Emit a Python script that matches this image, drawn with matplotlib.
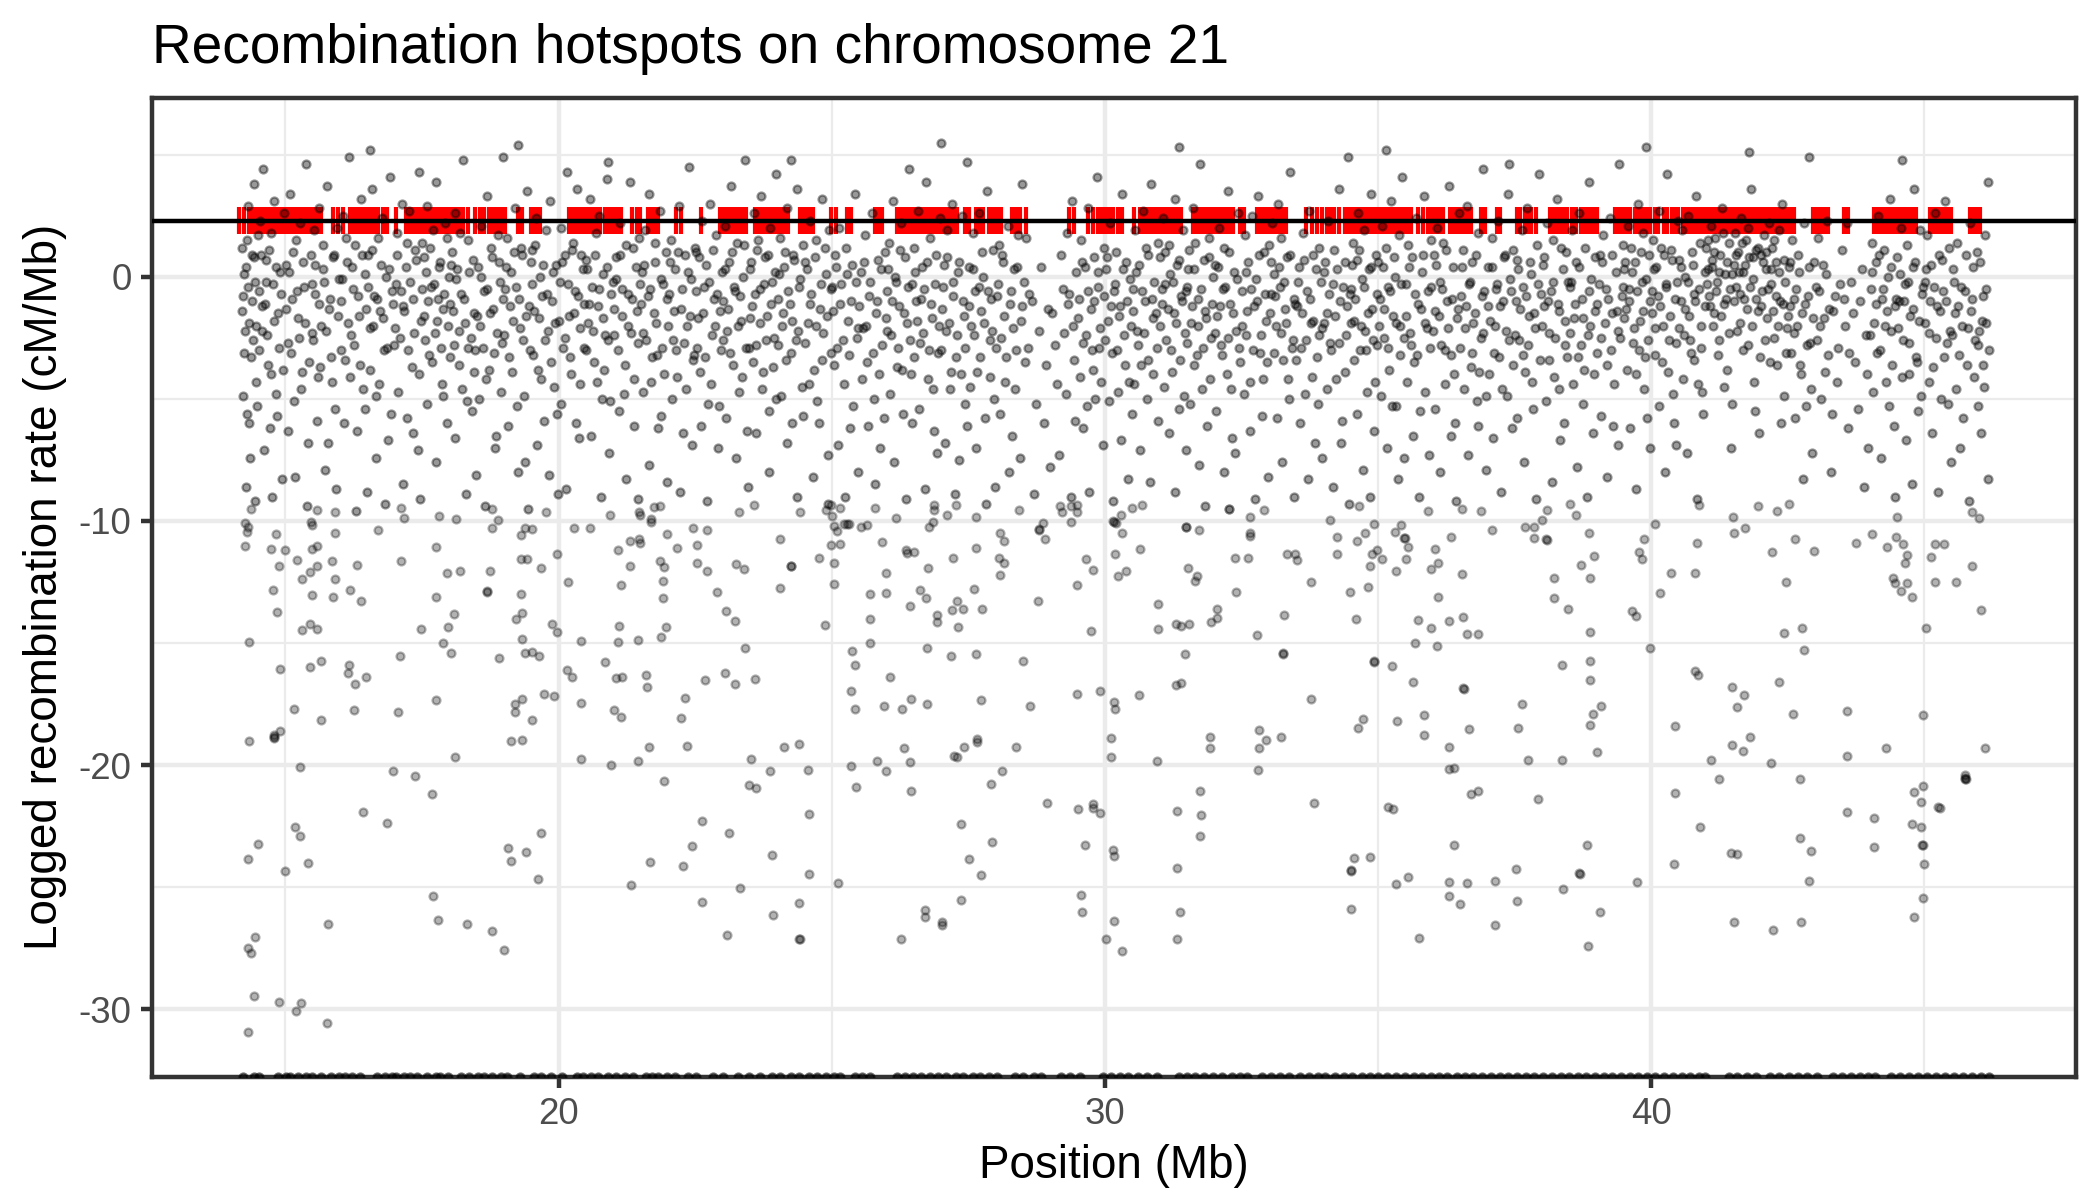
import matplotlib
matplotlib.use("Agg")
import matplotlib.pyplot as plt
import matplotlib.transforms as mtransforms
import numpy as np

plt.rcParams['font.family'] = ['Liberation Sans', 'DejaVu Sans']

title = "Recombination hotspots on chromosome 21"
x_label = "Position (Mb)"
y_label = "Logged recombination rate (cM/Mb)"
hotspot_threshold = np.log(10)          # cM/Mb threshold, logged
x_major = [20, 30, 40]
x_minor = [15, 25, 35, 45]
y_major = [-30, -20, -10, 0]
y_minor = [-25, -15, -5, 5]

# Hotspot positions (Mb)
hotspot_x = [14.16,14.25,14.34,14.41,14.47,14.53,14.59,14.64,14.70,14.76,14.82,14.88,14.94,14.97,15.01,15.07,15.13,15.19,15.25,15.31,
 15.37,15.43,15.49,15.55,15.61,15.66,15.88,15.97,16.06,16.19,16.25,16.31,16.37,16.43,16.49,16.57,16.63,16.69,16.78,16.86,
 17.02,17.20,17.26,17.32,17.38,17.44,17.48,17.52,17.58,17.64,17.70,17.76,17.82,17.88,17.94,18.00,18.06,18.12,18.18,18.26,
 18.34,18.48,18.56,18.64,18.73,18.79,18.85,18.91,18.97,19.02,19.26,19.34,19.50,19.56,19.62,19.67,20.19,20.25,20.31,20.37,
 20.42,20.47,20.53,20.59,20.65,20.71,20.76,20.85,20.92,20.98,21.04,21.10,21.14,21.35,21.43,21.50,21.64,21.71,21.77,21.83,
 22.16,22.25,22.60,22.96,23.02,23.09,23.12,23.17,23.24,23.31,23.38,23.44,23.59,23.65,23.71,23.77,23.83,23.87,23.92,23.98,
 24.04,24.10,24.16,24.20,24.42,24.48,24.54,24.60,24.66,24.98,25.08,25.29,25.36,25.79,25.87,25.92,26.19,26.25,26.31,26.37,
 26.43,26.50,26.54,26.60,26.66,26.72,26.78,26.84,26.88,26.92,27.00,27.08,27.14,27.20,27.26,27.30,27.44,27.51,27.64,27.70,
 27.78,27.88,27.93,27.99,28.05,28.10,28.31,28.38,28.45,28.56,29.34,29.43,29.69,29.79,29.87,29.93,29.99,30.05,30.11,30.15,
 30.25,30.31,30.54,30.65,30.71,30.77,30.83,30.89,30.94,30.98,31.05,31.11,31.16,31.22,31.28,31.34,31.39,31.61,31.69,31.71,
 31.77,31.83,31.89,31.95,32.01,32.07,32.12,32.17,32.23,32.28,32.34,32.48,32.55,32.79,32.85,32.91,32.97,33.03,33.09,33.15,
 33.21,33.27,33.31,33.68,33.79,33.89,33.98,34.07,34.15,34.20,34.28,34.40,34.46,34.52,34.58,34.64,34.70,34.76,34.79,34.81,
 34.87,34.93,34.99,35.05,35.11,35.15,35.19,35.25,35.31,35.37,35.43,35.50,35.55,35.61,35.73,35.82,35.92,35.98,36.04,36.10,
 36.16,36.20,36.32,36.40,36.46,36.52,36.58,36.64,36.70,36.89,36.96,37.18,37.24,37.54,37.60,37.69,37.75,37.81,37.89,38.15,
 38.21,38.27,38.33,38.37,38.40,38.47,38.55,38.63,38.71,38.77,38.83,38.89,38.95,39.01,39.34,39.40,39.46,39.52,39.58,39.62,
 39.70,39.76,39.82,39.88,39.94,39.99,40.07,40.13,40.23,40.30,40.38,40.45,40.49,40.59,40.63,40.69,40.75,40.81,40.87,40.92,
 40.98,41.04,41.10,41.16,41.22,41.28,41.34,41.40,41.46,41.52,41.58,41.64,41.70,41.73,41.79,41.85,41.91,41.97,42.03,42.07,
 42.13,42.19,42.25,42.31,42.35,42.39,42.45,42.51,42.57,42.62,42.97,43.03,43.09,43.15,43.21,43.24,43.53,43.61,44.08,44.14,
 44.20,44.26,44.32,44.38,44.45,44.49,44.55,44.61,44.66,44.68,44.74,44.80,44.86,45.11,45.17,45.23,45.29,45.35,45.41,45.47,
 45.50,45.84,45.90,45.96,46.02]

# Dense cloud (position Mb, logged rate), 14-25 Mb
dense_a = [(14.21,1.2),(14.23,-0.8),(14.25,-3.1),(14.27,0.4),(14.29,-5.6),(14.31,2.9),(14.33,-1.9),(14.36,-7.4),(14.38,0.9),(14.40,-2.6),(14.43,3.8),(14.45,-0.2),(14.47,-4.3),(14.49,1.7),
 (14.51,-0.6),(14.54,2.3),(14.57,-2.2),(14.59,4.4),(14.62,-1.1),(14.65,0.7),(14.68,-3.6),(14.71,-6.2),(14.74,1.8),(14.77,-0.3),(14.80,3.1),(14.83,-4.8),(14.86,-1.5),(14.90,0.2),(14.94,-8.3),(14.97,2.6),
 (15.02,0.5),(15.05,-2.7),(15.09,3.4),(15.12,-0.9),(15.16,-5.1),(15.19,1.5),(15.23,-1.7),(15.27,2.2),(15.30,-3.9),(15.34,-0.4),(15.38,4.6),(15.42,-6.8),(15.46,0.9),(15.49,-2.3),
 (15.52,1.9),(15.55,-0.7),(15.59,-4.1),(15.62,2.8),(15.66,-2.0),(15.69,0.3),(15.73,-7.9),(15.76,3.7),(15.80,-1.3),(15.84,-3.3),(15.87,0.8),(15.91,-5.4),(15.95,2.0),(15.98,-0.1),
 (16.02,-1.0),(16.06,2.5),(16.09,-3.4),(16.13,0.6),(16.17,4.9),(16.20,-2.4),(16.24,-0.5),(16.28,1.3),(16.32,-6.3),(16.35,-1.6),(16.39,3.2),(16.43,-4.6),(16.46,0.1),(16.49,-8.8),
 (16.52,0.9),(16.55,-2.1),(16.59,3.6),(16.63,-0.8),(16.66,-4.9),(16.70,1.6),(16.73,-1.4),(16.77,2.4),(16.81,-3.0),(16.84,0.0),(16.88,-6.7),(16.92,4.1),(16.95,-0.6),(16.98,-2.8),
 (17.02,-0.3),(17.05,1.8),(17.09,-2.5),(17.13,3.0),(17.16,-1.2),(17.20,0.4),(17.23,-5.8),(17.27,2.7),(17.31,-3.7),(17.34,-0.9),(17.38,1.1),(17.42,-7.1),(17.45,4.3),(17.48,-1.8),
 (17.51,1.4),(17.54,-1.6),(17.57,0.2),(17.60,2.9),(17.63,-3.2),(17.66,-0.4),(17.70,1.9),(17.73,-2.3),(17.76,3.9),(17.80,-0.9),(17.83,0.6),(17.86,-4.4),(17.89,-1.3),(17.93,2.2),(17.96,-6.0),(17.99,0.0),
 (18.02,-1.1),(18.05,1.0),(18.08,-2.8),(18.11,2.6),(18.15,0.3),(18.18,-3.6),(18.21,-0.7),(18.25,4.8),(18.28,-1.9),(18.32,-5.1),(18.35,1.5),(18.39,-2.5),(18.43,0.7),(18.46,-3.9),(18.49,-8.1),
 (18.52,0.4),(18.56,-2.0),(18.59,2.1),(18.63,-0.6),(18.67,-4.2),(18.70,3.3),(18.74,-1.5),(18.78,0.8),(18.81,-3.1),(18.85,-6.5),(18.89,1.7),(18.92,-0.2),(18.96,-2.7),(18.99,4.9),
 (19.02,-0.5),(19.06,1.6),(19.10,-3.3),(19.13,0.2),(19.17,-1.8),(19.21,2.8),(19.24,-5.3),(19.28,-0.9),(19.32,1.2),(19.35,-2.6),(19.39,-7.6),(19.43,3.5),(19.46,-1.2),(19.49,0.6),
 (19.52,1.1),(19.55,-1.4),(19.59,2.4),(19.63,-3.8),(19.66,0.0),(19.70,-0.8),(19.74,-5.9),(19.77,1.9),(19.81,-2.2),(19.85,3.1),(19.88,-1.0),(19.92,-4.5),(19.96,0.5),(19.99,-8.9),
 (20.02,-0.2),(20.05,2.0),(20.09,-2.9),(20.12,0.9),(20.16,4.3),(20.19,-1.6),(20.23,-4.0),(20.26,1.4),(20.30,-0.6),(20.33,3.6),(20.37,-6.6),(20.40,-2.1),(20.44,0.3),(20.47,-1.1),
 (20.51,0.7),(20.54,-1.9),(20.58,3.2),(20.61,-0.4),(20.65,-3.5),(20.68,1.8),(20.72,-1.2),(20.75,2.5),(20.79,-5.0),(20.82,0.1),(20.86,-2.4),(20.89,4.0),(20.93,-7.2),(20.97,-0.7),
 (21.01,-1.3),(21.05,0.8),(21.08,-3.0),(21.12,2.2),(21.16,-0.5),(21.19,-4.8),(21.23,1.3),(21.27,-2.0),(21.30,3.9),(21.34,-0.9),(21.38,-6.1),(21.41,0.4),(21.45,-2.7),(21.48,1.6),
 (21.52,0.2),(21.55,-2.3),(21.59,1.9),(21.63,-0.8),(21.66,3.4),(21.70,-4.3),(21.74,-1.5),(21.77,0.6),(21.81,-3.2),(21.85,2.7),(21.88,-5.7),(21.92,-0.3),(21.96,1.0),(21.99,-8.4),
 (22.02,-0.7),(22.06,1.5),(22.09,-2.6),(22.13,0.3),(22.17,-4.1),(22.20,2.9),(22.24,-1.3),(22.28,-6.4),(22.31,0.9),(22.35,-2.0),(22.39,4.5),(22.42,-0.1),(22.46,-3.4),(22.49,1.2),
 (22.52,1.0),(22.56,-1.7),(22.59,-3.9),(22.63,2.3),(22.67,-0.4),(22.70,0.5),(22.74,-5.2),(22.78,3.0),(22.81,-2.4),(22.85,-0.9),(22.89,1.7),(22.92,-7.0),(22.96,-1.4),(22.99,0.2),
 (23.02,-1.0),(23.05,2.1),(23.09,-2.2),(23.13,0.6),(23.16,3.7),(23.20,-3.6),(23.24,-0.6),(23.27,1.4),(23.31,-4.7),(23.34,-1.8),(23.38,0.0),(23.42,4.8),(23.45,-6.3),(23.48,-2.9),
 (23.51,0.3),(23.54,-1.2),(23.57,2.6),(23.61,-2.8),(23.64,1.1),(23.68,-0.5),(23.71,3.3),(23.74,-3.9),(23.78,0.8),(23.81,-1.6),(23.85,-5.5),(23.88,2.0),(23.91,-0.2),(23.95,-2.5),(23.98,4.2),
 (24.02,-0.9),(24.05,1.6),(24.09,-2.0),(24.12,0.4),(24.16,-3.4),(24.19,2.8),(24.23,-1.1),(24.27,-6.0),(24.30,0.9),(24.34,-2.6),(24.37,3.6),(24.41,-0.4),(24.45,-4.5),(24.48,1.3),
 (24.52,0.6),(24.56,-1.9),(24.60,2.3),(24.63,-0.7),(24.67,-3.8),(24.71,1.5),(24.74,-5.1),(24.78,-1.3),(24.82,3.2),(24.85,-2.3),(24.89,0.1),(24.93,-7.3),(24.96,1.9),(24.99,-0.5)]

dense_d = [(14.20,-1.4),(14.22,-4.9),(14.24,0.1),(14.26,-2.2),(14.28,-8.6),(14.30,1.5),(14.32,-0.4),(14.34,-6.0),(14.37,-3.3),(14.39,-1.0),(14.42,0.8),(14.44,-9.2),(14.46,-2.0),(14.48,-5.3),
 (14.52,-3.0),(14.55,0.9),(14.58,-1.2),(14.61,-7.1),(14.64,-0.2),(14.67,-2.4),(14.70,1.1),(14.73,-4.0),(14.76,-9.0),(14.79,-1.8),(14.82,0.4),(14.85,-5.7),(14.88,-2.9),(14.92,-0.7),(14.96,-3.8),
 (15.01,-1.3),(15.04,-6.3),(15.07,0.2),(15.11,-3.1),(15.14,1.0),(15.18,-8.2),(15.21,-0.6),(15.25,-2.5),(15.29,-4.6),(15.32,0.6),(15.36,-1.9),(15.40,-9.4),(15.44,-3.5),(15.48,-0.3),
 (15.51,-2.6),(15.54,0.5),(15.57,-5.9),(15.61,-1.1),(15.64,-3.7),(15.68,1.3),(15.71,-0.2),(15.75,-2.2),(15.78,-6.8),(15.82,-0.9),(15.86,-4.3),(15.89,0.9),(15.93,-8.7),(15.97,-1.6),
 (16.01,-3.0),(16.04,-0.1),(16.08,-6.0),(16.11,1.6),(16.15,-1.9),(16.19,-4.1),(16.22,0.4),(16.26,-2.8),(16.30,-9.6),(16.33,-0.8),(16.37,-3.6),(16.41,0.9),(16.45,-5.4),(16.48,-1.3),
 (16.51,-0.4),(16.54,-3.8),(16.58,1.1),(16.61,-2.0),(16.65,-7.4),(16.68,-0.9),(16.72,-4.4),(16.75,0.5),(16.79,-1.7),(16.83,-9.3),(16.86,-2.9),(16.90,0.3),(16.94,-5.6),(16.97,-1.1),
 (17.01,-2.1),(17.04,0.9),(17.07,-4.7),(17.11,-0.6),(17.15,-8.5),(17.18,-1.4),(17.22,1.4),(17.25,-3.0),(17.29,-0.2),(17.33,-6.4),(17.36,-2.3),(17.40,0.7),(17.44,-4.0),(17.47,-9.1),
 (17.50,-0.5),(17.53,0.8),(17.56,-2.6),(17.59,-5.2),(17.62,-1.0),(17.65,1.2),(17.68,-3.5),(17.72,-0.3),(17.75,-7.6),(17.78,-1.8),(17.81,0.4),(17.85,-2.9),(17.88,-4.9),(17.91,-0.7),(17.95,1.6),(17.98,-2.0),
 (18.01,-3.3),(18.04,0.5),(18.07,-1.4),(18.10,-6.6),(18.13,-0.1),(18.17,-2.2),(18.20,1.8),(18.23,-4.6),(18.27,-0.9),(18.30,-8.9),(18.34,-2.9),(18.37,0.2),(18.41,-5.5),(18.45,-1.5),(18.48,-3.0),
 (18.51,-1.6),(18.54,-5.0),(18.58,0.0),(18.61,-2.9),(18.65,-9.4),(18.69,-0.5),(18.72,-3.8),(18.76,1.2),(18.80,-1.3),(18.83,-7.0),(18.87,-2.3),(18.91,0.6),(18.94,-4.7),(18.98,-0.9),
 (19.01,-2.4),(19.04,0.4),(19.08,-6.1),(19.12,-1.2),(19.15,-3.9),(19.19,1.0),(19.23,-0.4),(19.26,-8.0),(19.30,-2.1),(19.33,0.9),(19.37,-4.9),(19.41,-1.6),(19.45,-9.5),(19.48,-3.0),
 (19.51,-0.3),(19.54,-3.2),(19.57,1.3),(19.61,-6.9),(19.64,-1.7),(19.68,-4.2),(19.72,0.5),(19.75,-2.6),(19.79,-0.7),(19.83,-8.1),(19.86,-3.5),(19.90,0.2),(19.94,-1.9),(19.97,-5.6),
 (20.01,-1.8),(20.04,-5.2),(20.07,0.6),(20.11,-2.5),(20.14,-8.7),(20.18,-0.3),(20.21,-3.3),(20.25,1.1),(20.28,-1.5),(20.32,-6.0),(20.35,-0.8),(20.39,-4.4),(20.42,0.9),(20.46,-2.9),
 (20.50,-3.0),(20.53,0.3),(20.56,-1.1),(20.60,-6.5),(20.63,-2.2),(20.67,0.9),(20.70,-4.3),(20.74,-0.5),(20.77,-9.0),(20.81,-1.7),(20.84,-3.8),(20.88,0.4),(20.91,-2.6),(20.95,-5.1),(20.99,-0.2),
 (21.02,-2.4),(21.06,-0.1),(21.10,-5.5),(21.13,0.9),(21.17,-1.6),(21.21,-3.6),(21.24,-8.3),(21.28,-0.7),(21.32,-2.3),(21.36,1.2),(21.39,-4.2),(21.43,-1.4),(21.46,-9.1),(21.49,-0.3),
 (21.51,-1.1),(21.54,-4.7),(21.57,0.5),(21.61,-2.6),(21.65,-7.7),(21.68,-0.5),(21.72,-3.3),(21.76,1.4),(21.79,-1.9),(21.83,-6.2),(21.87,-0.1),(21.90,-2.9),(21.94,-4.0),(21.98,-0.9),
 (22.01,-2.0),(22.04,0.6),(22.08,-5.0),(22.11,-1.4),(22.15,-3.0),(22.19,1.0),(22.22,-8.8),(22.26,-0.5),(22.30,-2.7),(22.33,-4.6),(22.37,0.2),(22.41,-1.6),(22.44,-6.9),(22.48,-3.2),
 (22.51,-0.6),(22.54,-2.9),(22.58,0.8),(22.61,-6.1),(22.65,-1.5),(22.68,-3.3),(22.72,-9.2),(22.76,-0.2),(22.79,-4.4),(22.83,1.1),(22.87,-2.0),(22.90,-0.7),(22.94,-5.3),(22.97,-3.0),
 (23.01,-2.6),(23.04,0.3),(23.07,-5.8),(23.11,-1.3),(23.14,-3.1),(23.18,1.0),(23.22,-0.4),(23.25,-7.4),(23.29,-2.0),(23.33,-0.8),(23.36,-4.1),(23.40,1.3),(23.43,-2.9),(23.47,-8.6),
 (23.50,-1.7),(23.53,0.6),(23.56,-3.5),(23.59,-0.7),(23.62,-6.4),(23.66,1.5),(23.69,-1.9),(23.72,-4.6),(23.76,-0.3),(23.79,-2.6),(23.83,0.9),(23.86,-8.0),(23.89,-1.1),(23.93,-3.7),(23.96,0.2),(23.99,-5.0),
 (24.01,-2.8),(24.04,0.1),(24.07,-4.9),(24.11,-1.5),(24.14,1.0),(24.18,-6.8),(24.21,-0.6),(24.25,-3.1),(24.28,-1.8),(24.32,0.7),(24.36,-9.0),(24.39,-2.2),(24.43,-0.1),(24.47,-5.7),
 (24.51,-2.7),(24.54,0.3),(24.58,-4.4),(24.61,-1.1),(24.65,-8.2),(24.69,0.8),(24.72,-2.0),(24.76,-6.0),(24.80,-0.3),(24.83,-3.4),(24.87,1.2),(24.91,-1.6),(24.94,-9.3),(24.98,-3.1)]

# Dense cloud, 25-36 Mb
dense_b = [(25.02,-1.4),(25.06,0.9),(25.10,-2.9),(25.14,2.0),(25.18,-0.3),(25.22,-4.4),(25.26,1.2),(25.30,-1.8),(25.34,-6.2),(25.38,0.5),(25.42,3.4),(25.46,-2.5),(25.49,-8.0),
 (25.53,0.2),(25.57,-2.1),(25.61,1.7),(25.65,-3.5),(25.69,-0.8),(25.73,2.6),(25.77,-5.0),(25.81,-1.5),(25.85,0.7),(25.89,-7.0),(25.93,-2.8),(25.97,1.0),
 (26.02,-0.6),(26.05,1.4),(26.09,-2.4),(26.12,3.1),(26.16,0.0),(26.20,-3.7),(26.23,-1.2),(26.27,2.2),(26.31,-5.6),(26.34,0.8),(26.38,-1.9),(26.42,4.4),(26.45,-4.0),(26.48,-0.3),
 (26.51,1.2),(26.55,-1.0),(26.58,2.7),(26.62,-2.7),(26.66,0.4),(26.69,-0.5),(26.73,3.9),(26.76,-4.2),(26.80,1.6),(26.83,-1.7),(26.87,-6.3),(26.91,0.9),(26.94,-3.1),(26.98,2.4),
 (27.02,-1.3),(27.05,0.5),(27.09,-2.2),(27.12,1.9),(27.16,-4.6),(27.20,3.0),(27.23,-0.8),(27.27,-3.3),(27.31,0.2),(27.34,-7.5),(27.38,2.5),(27.42,-1.6),(27.45,-5.2),(27.48,4.7),
 (27.52,0.4),(27.56,-2.0),(27.59,1.8),(27.63,-0.6),(27.67,-3.9),(27.70,2.6),(27.74,-1.4),(27.78,0.0),(27.81,-5.8),(27.85,3.5),(27.89,-2.6),(27.92,-0.9),(27.96,1.1),(27.99,-8.6),
 (28.02,-0.8),(28.06,1.3),(28.10,-2.5),(28.14,0.6),(28.18,-4.3),(28.22,2.1),(28.26,-1.1),(28.30,-6.5),(28.34,0.3),(28.38,-3.0),(28.42,1.7),(28.46,-1.8),(28.49,3.8),
 (28.52,-0.2),(28.56,1.6),(28.60,-2.9),(28.66,-1.0),(28.74,-5.2),(28.83,0.4),(28.92,-3.6),(28.99,-7.8),
 (29.04,-1.5),(29.12,-4.4),(29.20,0.9),(29.26,-2.3),(29.31,1.8),(29.35,-0.7),(29.40,3.1),(29.44,-3.4),(29.48,0.2),
 (29.52,-0.9),(29.56,1.5),(29.60,-2.7),(29.63,0.4),(29.67,-5.3),(29.70,2.8),(29.74,-1.3),(29.78,-3.8),(29.81,0.8),(29.85,4.1),(29.88,-0.4),(29.92,-2.1),(29.96,-6.9),(29.99,1.2),
 (30.02,0.3),(30.06,-1.8),(30.09,2.2),(30.13,-3.1),(30.17,-0.6),(30.20,1.0),(30.24,-4.7),(30.28,-1.2),(30.31,3.4),(30.35,-2.4),(30.39,0.6),(30.42,-8.3),(30.46,-0.1),(30.49,-5.6),
 (30.52,-0.5),(30.55,1.9),(30.59,-2.2),(30.62,0.5),(30.66,-3.6),(30.70,2.7),(30.73,-1.0),(30.77,-5.0),(30.80,0.9),(30.84,3.8),(30.88,-1.7),(30.91,-0.2),(30.95,-2.9),(30.98,1.4),
 (31.01,0.8),(31.04,-1.1),(31.07,2.4),(31.10,-0.3),(31.13,-2.6),(31.17,1.3),(31.20,0.1),(31.23,-3.9),(31.26,-1.5),(31.29,3.2),(31.33,0.5),(31.36,-5.4),(31.39,-0.8),(31.43,1.9),(31.46,-2.3),(31.49,-7.1),
 (31.51,-0.4),(31.54,1.1),(31.58,-1.9),(31.61,2.8),(31.64,0.3),(31.68,-3.2),(31.71,-0.9),(31.74,4.6),(31.78,-4.6),(31.81,0.7),(31.84,-1.4),(31.88,-6.1),(31.91,1.6),(31.95,-2.5),(31.98,0.0),
 (32.02,0.5),(32.05,-1.6),(32.09,2.0),(32.12,-2.8),(32.16,-0.5),(32.19,1.2),(32.23,-4.0),(32.26,3.5),(32.30,-1.1),(32.33,-6.6),(32.37,0.2),(32.40,-2.2),(32.44,2.6),(32.47,-3.5),
 (32.52,-0.6),(32.56,1.7),(32.59,-2.4),(32.63,0.6),(32.66,-4.3),(32.70,2.5),(32.74,-1.2),(32.77,-0.1),(32.81,3.3),(32.84,-3.1),(32.88,-5.7),(32.91,1.0),(32.95,-1.8),(32.98,-8.2),
 (33.01,1.3),(33.04,-0.7),(33.07,2.2),(33.10,0.1),(33.14,-2.0),(33.17,3.0),(33.20,-0.4),(33.23,1.6),(33.27,-3.4),(33.30,-1.3),(33.33,0.8),(33.37,-5.0),(33.40,4.3),(33.44,-2.6),(33.47,-0.9),
 (33.52,-1.2),(33.55,0.4),(33.59,-2.9),(33.63,1.8),(33.66,-4.8),(33.70,-0.6),(33.74,2.7),(33.77,-1.9),(33.81,0.9),(33.84,-6.8),(33.88,-3.3),(33.92,1.2),(33.95,-0.2),(33.98,-2.1),
 (34.02,0.2),(34.06,-1.5),(34.09,2.3),(34.13,-2.7),(34.17,-0.3),(34.20,1.1),(34.24,-4.2),(34.28,3.6),(34.31,-1.0),(34.35,-5.9),(34.39,0.6),(34.42,-2.4),(34.46,4.9),(34.49,-0.7),
 (34.51,-0.5),(34.54,1.4),(34.57,-1.8),(34.61,0.7),(34.64,2.6),(34.67,-3.0),(34.70,-0.1),(34.74,1.9),(34.77,-2.2),(34.80,-4.7),(34.83,0.3),(34.87,3.4),(34.90,-1.3),(34.93,-6.3),(34.96,0.9),(34.99,-2.8),
 (35.01,0.6),(35.04,-0.9),(35.08,2.1),(35.11,-2.5),(35.14,1.2),(35.18,-0.4),(35.21,-3.8),(35.24,3.1),(35.28,-1.6),(35.31,0.0),(35.34,-5.3),(35.38,1.7),(35.41,-2.0),(35.45,4.1),(35.48,-7.4),
 (35.52,-0.3),(35.55,1.3),(35.59,-2.3),(35.62,0.8),(35.66,-3.5),(35.69,2.4),(35.73,-1.1),(35.77,-5.5),(35.80,0.2),(35.84,3.3),(35.87,-1.9),(35.91,-0.6),(35.95,-2.9),(35.98,1.5)]

dense_e = [(25.01,-0.4),(25.04,-3.6),(25.08,0.4),(25.12,-6.9),(25.16,-1.1),(25.20,-2.6),(25.24,-9.0),(25.28,0.1),(25.32,-3.2),(25.36,-1.0),(25.40,-5.3),(25.44,-0.2),(25.48,-2.1),
 (25.51,-1.2),(25.55,-4.2),(25.59,0.6),(25.63,-2.0),(25.67,-6.1),(25.71,-0.2),(25.75,-3.1),(25.79,-8.5),(25.83,-1.0),(25.87,-4.0),(25.91,0.3),(25.95,-5.8),(25.99,-1.7),
 (26.01,-2.2),(26.04,0.3),(26.07,-4.8),(26.11,-1.0),(26.14,-7.6),(26.18,-0.2),(26.22,-2.9),(26.25,1.1),(26.29,-3.8),(26.33,-1.5),(26.36,-9.1),(26.40,-0.4),(26.44,-2.6),(26.47,-6.0),
 (26.50,-3.3),(26.53,0.2),(26.57,-1.8),(26.60,-5.4),(26.64,-0.9),(26.68,-2.3),(26.71,-8.7),(26.75,0.6),(26.78,-3.0),(26.82,-1.1),(26.85,-4.6),(26.89,-0.3),(26.93,-7.2),(26.96,-2.0),
 (27.01,-3.0),(27.04,-0.4),(27.07,-6.8),(27.11,0.8),(27.14,-1.9),(27.18,-3.9),(27.22,-0.2),(27.25,-8.9),(27.29,-2.4),(27.33,0.6),(27.36,-4.0),(27.40,-1.0),(27.44,-2.9),(27.47,-6.1),
 (27.51,-1.2),(27.54,-4.5),(27.58,0.3),(27.61,-2.4),(27.65,-7.0),(27.69,-0.4),(27.72,-3.3),(27.76,1.0),(27.79,-1.9),(27.83,-9.3),(27.87,-0.6),(27.90,-4.1),(27.94,-2.2),(27.97,-5.0),
 (28.01,-2.9),(28.04,-0.3),(28.08,-5.6),(28.12,0.9),(28.16,-1.6),(28.20,-3.3),(28.24,-8.0),(28.28,-0.6),(28.32,-2.1),(28.36,-4.6),(28.40,0.4),(28.44,-7.4),(28.48,-1.2),
 (28.54,-3.5),(28.62,-0.7),(28.70,-8.9),(28.79,-2.2),(28.88,-6.0),(28.96,-1.3),
 (29.08,-2.8),(29.16,-7.3),(29.23,-0.5),(29.29,-4.8),(29.33,-1.1),(29.38,-9.0),(29.42,-2.0),(29.46,-5.9),
 (29.51,-1.7),(29.54,-4.1),(29.58,0.6),(29.61,-6.2),(29.65,-2.4),(29.69,-0.6),(29.72,-8.8),(29.76,-3.0),(29.80,-1.0),(29.83,-5.0),(29.87,0.2),(29.90,-2.9),(29.94,-4.3),(29.98,-0.8),
 (30.01,-2.6),(30.04,0.8),(30.08,-5.1),(30.11,-1.2),(30.15,-9.2),(30.19,-0.3),(30.22,-3.0),(30.26,-1.6),(30.30,-6.7),(30.33,0.3),(30.37,-3.6),(30.41,-1.0),(30.44,-4.3),(30.48,-2.0),
 (30.51,-1.4),(30.54,-4.4),(30.57,0.2),(30.61,-2.8),(30.64,-7.1),(30.68,-0.6),(30.71,-2.3),(30.75,1.2),(30.79,-3.4),(30.82,-8.4),(30.86,-0.9),(30.89,-4.0),(30.93,-1.5),(30.97,-5.9),
 (31.02,-2.0),(31.05,-0.5),(31.08,-4.5),(31.11,1.0),(31.15,-1.3),(31.18,-6.4),(31.21,-3.0),(31.25,-0.2),(31.28,-8.8),(31.31,-1.9),(31.35,0.7),(31.38,-3.4),(31.41,-1.0),(31.45,-4.9),(31.48,-0.6),
 (31.50,-2.7),(31.53,0.3),(31.56,-5.2),(31.60,-1.2),(31.63,-3.6),(31.66,1.4),(31.70,-2.0),(31.73,-7.7),(31.76,-0.5),(31.80,-2.9),(31.83,-9.4),(31.86,-1.7),(31.90,0.8),(31.93,-4.2),(31.97,-1.1),
 (32.01,-2.3),(32.04,-5.5),(32.07,0.4),(32.11,-1.2),(32.14,-3.2),(32.18,-8.0),(32.21,-0.4),(32.25,-2.5),(32.28,1.0),(32.32,-4.6),(32.35,-1.5),(32.39,-7.2),(32.42,-0.1),(32.46,-2.9),
 (32.51,-2.0),(32.54,-4.8),(32.58,0.2),(32.61,-1.4),(32.65,-6.3),(32.68,-0.5),(32.72,-3.0),(32.75,-9.1),(32.79,-1.0),(32.83,0.9),(32.86,-2.4),(32.90,-4.2),(32.93,-0.7),(32.97,-3.5),
 (33.02,-1.5),(33.05,0.6),(33.09,-3.1),(33.12,-0.8),(33.15,-5.8),(33.19,0.4),(33.22,-2.3),(33.25,-7.6),(33.29,-0.2),(33.32,-1.9),(33.35,-4.2),(33.39,0.9),(33.42,-2.9),(33.46,-9.0),(33.49,-1.1),
 (33.51,-3.4),(33.54,-0.2),(33.57,-6.0),(33.61,-1.5),(33.65,0.7),(33.68,-2.6),(33.72,-8.3),(33.75,-0.9),(33.79,-4.1),(33.82,-1.8),(33.86,0.3),(33.90,-5.2),(33.93,-2.4),(33.97,-7.4),
 (34.01,-1.9),(34.04,0.6),(34.07,-4.6),(34.11,-0.7),(34.15,-3.0),(34.18,-8.6),(34.22,-1.6),(34.26,0.3),(34.29,-2.7),(34.33,-6.8),(34.37,-0.4),(34.40,-3.9),(34.44,-1.2),(34.47,-9.3),
 (34.50,-1.9),(34.53,0.5),(34.56,-3.4),(34.59,-0.9),(34.62,-5.6),(34.66,1.1),(34.69,-2.0),(34.72,-7.9),(34.75,-0.4),(34.79,-3.0),(34.82,-1.5),(34.85,-9.0),(34.88,0.4),(34.91,-2.6),(34.95,-4.3),(34.98,-0.7),
 (35.02,-2.0),(35.05,-4.9),(35.09,0.4),(35.12,-1.3),(35.16,-7.0),(35.19,-2.9),(35.23,-0.6),(35.26,-5.3),(35.29,0.8),(35.33,-1.9),(35.36,-8.3),(35.40,-3.2),(35.43,-0.3),(35.47,-2.5),
 (35.51,-1.6),(35.54,-4.3),(35.57,0.4),(35.61,-2.8),(35.64,-6.5),(35.68,-0.7),(35.71,-3.2),(35.75,-9.0),(35.79,-1.3),(35.82,0.9),(35.86,-4.7),(35.89,-2.1),(35.93,-7.3),(35.97,-0.4)]

# Dense cloud, 36-46.2 Mb
dense_c = [(36.02,0.9),(36.05,-1.4),(36.09,2.0),(36.13,-0.2),(36.16,-2.8),(36.20,1.4),(36.23,-4.4),(36.27,-1.0),(36.31,3.7),(36.34,-3.2),(36.38,0.4),(36.42,-6.0),(36.45,-1.7),(36.48,2.6),
 (36.52,-0.8),(36.55,1.1),(36.59,-2.1),(36.63,2.9),(36.66,-0.3),(36.70,-3.7),(36.73,0.6),(36.77,-1.5),(36.81,-5.1),(36.84,1.8),(36.88,-2.5),(36.92,4.4),(36.95,-0.6),(36.98,-7.9),
 (37.02,0.4),(37.05,-1.8),(37.09,1.6),(37.13,-3.1),(37.16,-0.5),(37.20,2.3),(37.23,-1.2),(37.27,-4.6),(37.31,0.8),(37.34,-2.2),(37.38,3.4),(37.42,-0.1),(37.45,-6.2),(37.48,1.1),
 (37.52,-1.0),(37.55,0.7),(37.59,-2.6),(37.63,1.9),(37.66,-0.4),(37.70,-3.9),(37.73,2.8),(37.77,-1.6),(37.81,0.1),(37.84,-5.4),(37.88,-2.1),(37.92,1.3),(37.95,4.2),(37.98,-0.7),
 (38.02,0.5),(38.05,-1.2),(38.09,2.2),(38.13,-2.3),(38.16,-0.6),(38.20,1.5),(38.23,-4.1),(38.27,3.2),(38.31,-1.4),(38.34,-6.7),(38.38,0.3),(38.42,-2.8),(38.45,1.0),(38.48,-0.2),
 (38.52,-0.4),(38.55,1.9),(38.59,-1.7),(38.62,0.6),(38.66,-3.3),(38.69,2.6),(38.73,-0.9),(38.76,-5.2),(38.80,1.2),(38.84,-2.4),(38.87,3.9),(38.91,-0.1),(38.95,-4.0),(38.98,0.8),
 (39.02,-1.1),(39.06,0.9),(39.09,-2.5),(39.13,1.7),(39.17,-0.5),(39.20,-3.6),(39.24,2.4),(39.28,-1.5),(39.31,-6.1),(39.35,0.2),(39.39,-2.2),(39.42,4.6),(39.46,-0.8),(39.49,1.3),
 (39.51,0.3),(39.54,-1.3),(39.57,2.1),(39.60,-0.5),(39.63,1.2),(39.67,-2.7),(39.70,0.6),(39.73,-4.0),(39.76,3.0),(39.79,-1.8),(39.83,-0.2),(39.86,1.8),(39.89,-3.3),(39.92,-5.8),(39.96,0.9),(39.99,-1.0),
 (40.01,-0.6),(40.04,1.5),(40.07,-2.1),(40.10,0.4),(40.14,2.7),(40.17,-1.2),(40.20,-3.5),(40.23,0.9),(40.27,-0.3),(40.30,4.2),(40.33,-2.6),(40.36,1.1),(40.40,-4.8),(40.43,-0.9),(40.46,-6.9),(40.49,2.3),
 (40.51,0.7),(40.54,-1.0),(40.57,1.9),(40.60,-2.4),(40.63,0.0),(40.67,2.5),(40.70,-1.6),(40.73,-3.1),(40.76,0.5),(40.79,-0.7),(40.83,3.3),(40.86,-4.4),(40.89,1.4),(40.92,-2.0),(40.96,-5.6),(40.99,0.2),
 (41.01,1.2),(41.04,0.3),(41.06,-0.8),(41.09,2.1),(41.12,0.7),(41.15,-1.5),(41.18,1.6),(41.21,-0.2),(41.24,-2.6),(41.27,0.9),(41.30,2.8),(41.33,-1.1),(41.36,0.1),(41.39,-3.8),(41.42,1.4),(41.45,-0.5),(41.48,-5.2),
 (41.51,0.5),(41.53,1.8),(41.56,-0.4),(41.59,1.0),(41.62,-1.9),(41.65,2.4),(41.68,0.2),(41.71,-0.9),(41.74,1.5),(41.77,-2.8),(41.80,0.8),(41.83,3.6),(41.86,-0.1),(41.89,-4.3),(41.92,1.1),(41.95,-1.4),(41.98,-6.4),
 (42.01,0.9),(42.04,-0.6),(42.07,1.7),(42.10,0.3),(42.13,-1.7),(42.16,2.2),(42.19,-0.3),(42.22,1.2),(42.25,-2.5),(42.28,0.6),(42.31,-3.6),(42.34,1.9),(42.37,-1.0),(42.40,3.0),(42.43,-4.9),(42.46,-0.2),(42.49,-2.1),
 (42.52,0.4),(42.55,-1.2),(42.59,1.5),(42.62,-2.3),(42.66,-0.5),(42.69,0.9),(42.73,-3.6),(42.77,-1.5),(42.80,2.2),(42.84,-5.3),(42.88,-0.8),(42.91,-2.7),(42.95,-7.2),(42.98,0.6),
 (43.02,-0.4),(43.06,1.6),(43.10,-2.0),(43.14,0.5),(43.18,-3.9),(43.22,2.3),(43.26,-1.3),(43.31,-5.6),(43.37,-0.8),(43.43,-2.9),(43.49,1.1),
 (43.53,-0.9),(43.58,2.2),(43.63,-3.1),(43.70,-1.5),(43.78,-5.4),(43.86,0.3),(43.93,-2.4),(43.98,-7.0),
 (44.02,-0.5),(44.05,1.4),(44.09,-1.9),(44.12,0.6),(44.16,2.5),(44.19,-3.0),(44.23,-0.9),(44.26,1.1),(44.30,-4.3),(44.33,0.0),(44.37,3.2),(44.40,-2.2),(44.44,-6.1),(44.47,-1.2),
 (44.51,0.8),(44.54,-1.0),(44.58,2.0),(44.61,-2.6),(44.65,-0.3),(44.68,1.3),(44.72,-4.0),(44.75,-1.6),(44.79,0.4),(44.82,3.6),(44.86,-3.3),(44.89,-5.5),(44.93,1.9),(44.96,-0.7),
 (45.02,-0.2),(45.06,1.7),(45.09,-2.3),(45.13,0.5),(45.17,-3.7),(45.20,2.6),(45.24,-1.2),(45.28,0.9),(45.31,-5.0),(45.35,-0.6),(45.39,3.1),(45.42,-2.7),(45.46,1.2),(45.49,-7.6),
 (45.52,0.3),(45.56,-1.5),(45.60,1.4),(45.64,-3.2),(45.68,-0.4),(45.72,-5.8),(45.76,0.9),(45.80,-2.1),(45.84,2.2),(45.88,-0.9),(45.92,-4.1),(45.96,1.0),(45.99,-2.8),
 (46.02,0.6),(46.05,-1.8),(46.08,-3.6),(46.11,1.7),(46.14,-0.5),(46.17,3.9)]

dense_f = [(36.01,-2.2),(36.04,-5.4),(36.07,0.5),(36.11,-1.6),(36.14,-8.0),(36.18,-0.5),(36.22,-3.0),(36.25,1.1),(36.29,-2.1),(36.33,-6.5),(36.36,-0.9),(36.40,-4.0),(36.43,-9.2),(36.47,-1.3),
 (36.51,-2.9),(36.54,0.4),(36.57,-4.6),(36.61,-1.2),(36.65,-7.3),(36.68,-0.2),(36.72,-3.1),(36.75,-1.9),(36.79,0.9),(36.83,-6.1),(36.86,-3.9),(36.90,-0.8),(36.93,-2.3),(36.97,-4.9),
 (37.01,-1.2),(37.04,-4.0),(37.08,0.4),(37.11,-6.6),(37.15,-2.0),(37.18,-0.3),(37.22,-3.3),(37.26,-8.8),(37.29,-1.0),(37.33,0.9),(37.36,-4.9),(37.40,-2.6),(37.44,-0.6),(37.47,-3.6),
 (37.51,-2.4),(37.54,-5.8),(37.57,0.3),(37.61,-1.3),(37.65,-3.2),(37.68,-7.6),(37.72,-0.8),(37.75,-2.8),(37.79,0.6),(37.83,-4.3),(37.86,-1.5),(37.90,-9.1),(37.93,-0.3),(37.97,-3.4),
 (38.01,-2.0),(38.04,0.8),(38.07,-5.1),(38.11,-1.0),(38.14,-3.4),(38.18,-8.4),(38.21,-0.2),(38.25,-2.5),(38.29,-1.1),(38.32,-4.6),(38.36,1.2),(38.40,-6.0),(38.43,-1.8),(38.47,-3.3),
 (38.51,-2.3),(38.54,-0.2),(38.57,-4.4),(38.61,-1.1),(38.64,-7.8),(38.68,0.4),(38.71,-2.8),(38.75,-1.7),(38.78,-3.8),(38.82,-9.0),(38.86,-0.6),(38.89,-2.0),(38.93,-6.4),(38.97,-1.4),
 (39.01,-3.1),(39.04,-0.3),(39.08,-5.7),(39.11,0.6),(39.15,-1.9),(39.19,-8.2),(39.22,-0.9),(39.26,-3.0),(39.29,0.9),(39.33,-4.4),(39.37,-1.4),(39.40,-6.9),(39.44,-2.5),(39.48,-0.4),
 (39.50,-1.7),(39.53,0.6),(39.56,-3.8),(39.59,-1.0),(39.62,-6.2),(39.65,0.2),(39.68,-2.1),(39.72,-8.7),(39.75,-0.6),(39.78,-3.0),(39.81,1.0),(39.85,-1.4),(39.88,-4.6),(39.91,-0.1),(39.94,-2.6),(39.98,-7.0),
 (40.02,-1.5),(40.05,0.3),(40.08,-3.2),(40.12,-0.8),(40.15,-5.3),(40.18,1.2),(40.22,-2.0),(40.25,-8.0),(40.28,-0.4),(40.32,-3.9),(40.35,-1.6),(40.38,0.7),(40.42,-6.0),(40.45,-2.7),(40.48,-0.2),
 (40.52,-2.1),(40.55,0.4),(40.58,-4.2),(40.62,-1.3),(40.65,-7.2),(40.68,-0.2),(40.72,-2.6),(40.75,1.0),(40.78,-3.4),(40.81,-1.0),(40.85,-9.1),(40.88,-0.5),(40.91,-2.9),(40.94,-4.7),(40.98,-1.2),
 (41.02,-0.3),(41.05,1.5),(41.08,-1.2),(41.11,0.4),(41.13,-2.0),(41.16,1.0),(41.19,-0.6),(41.22,-3.2),(41.25,0.2),(41.28,-1.6),(41.31,1.8),(41.34,-4.5),(41.37,-0.9),(41.40,0.6),(41.43,-2.3),(41.46,-7.0),(41.49,0.1),
 (41.52,-1.0),(41.55,0.9),(41.58,-2.2),(41.61,0.2),(41.63,-0.7),(41.66,1.4),(41.69,-3.0),(41.72,0.5),(41.75,-1.3),(41.78,2.0),(41.81,-0.4),(41.84,-2.0),(41.87,0.8),(41.90,-5.5),(41.93,-0.9),(41.96,1.2),(41.99,-3.3),
 (42.02,-1.2),(42.05,0.6),(42.08,-2.6),(42.11,1.0),(42.14,-0.5),(42.17,-3.5),(42.20,0.3),(42.23,-1.4),(42.26,1.5),(42.29,-0.8),(42.32,-2.0),(42.35,0.2),(42.38,-6.0),(42.41,-1.1),(42.44,0.7),(42.47,-3.1),
 (42.51,-1.6),(42.54,0.6),(42.57,-3.1),(42.61,-0.9),(42.64,-5.8),(42.68,-2.0),(42.71,0.2),(42.75,-4.0),(42.78,-8.3),(42.82,-1.1),(42.86,-2.8),(42.89,0.4),(42.93,-4.6),(42.97,-1.7),
 (43.04,-2.6),(43.08,-0.6),(43.12,-5.0),(43.16,-1.7),(43.20,0.1),(43.24,-3.2),(43.29,-8.0),(43.34,-1.4),(43.40,-4.3),(43.46,-0.3),
 (43.55,-2.0),(43.61,-6.2),(43.67,-0.2),(43.74,-3.5),(43.82,-1.0),(43.90,-8.6),(43.96,-4.0),
 (44.01,-2.4),(44.04,0.2),(44.07,-4.7),(44.11,-1.1),(44.14,-3.1),(44.18,0.9),(44.21,-7.4),(44.25,-0.5),(44.28,-2.0),(44.32,-1.4),(44.35,-5.3),(44.39,0.4),(44.42,-3.6),(44.46,-9.0),(44.49,-0.9),
 (44.52,-2.1),(44.56,0.1),(44.59,-4.1),(44.63,-1.0),(44.66,-6.7),(44.70,-0.2),(44.73,-2.7),(44.77,-8.5),(44.80,-1.3),(44.84,0.6),(44.87,-3.5),(44.91,-1.8),(44.94,-4.9),(44.98,-0.4),
 (45.01,-1.9),(45.04,0.3),(45.08,-4.3),(45.11,-1.0),(45.15,-6.4),(45.18,-0.4),(45.22,-2.5),(45.26,-8.8),(45.29,-1.4),(45.33,0.7),(45.37,-3.3),(45.40,-1.0),(45.44,-5.2),(45.48,-2.2),
 (45.51,-2.4),(45.55,-0.2),(45.58,-4.6),(45.62,-1.2),(45.66,-7.0),(45.70,-2.0),(45.74,-0.6),(45.78,-3.6),(45.82,-9.2),(45.86,-1.4),(45.90,0.4),(45.94,-2.6),(45.98,-5.3),
 (46.01,-2.2),(46.04,-6.4),(46.07,-0.8),(46.10,-4.5),(46.13,-1.9),(46.16,-8.3),(46.18,-3.0)]

# Highest points above the hotspot band
top_pts = [(16.55,5.2),(19.25,5.4),(27.00,5.5),(31.35,5.3),(35.15,5.2),(39.90,5.3),(41.80,5.1),(42.90,4.9),(20.90,4.7),(24.25,4.8),(37.40,4.6),(44.60,4.8)]

# Sparse low-rate points, 14-24.5 Mb
low_a = [(14.37,-9.50),(14.26,-10.08),(14.31,-10.26),(14.30,-10.46),(14.26,-11.02),(14.82,-10.52),(14.74,-11.15),(14.99,-11.19),(14.89,-11.86),(14.78,-12.81),
 (14.84,-13.74),(14.34,-14.96),(15.22,-11.59),(15.31,-12.38),(15.45,-12.08),(15.48,-13.02),(15.31,-14.47),(15.45,-14.21),(15.58,-14.44),(15.46,-10.03),
 (15.48,-10.15),(15.58,-9.53),(15.48,-11.13),(15.58,-11.02),(15.58,-11.85),(15.91,-9.65),(15.91,-10.49),(15.86,-11.65),(15.90,-12.38),(15.88,-13.13),
 (16.18,-12.82),(16.32,-11.80),(16.38,-13.28),(16.69,-10.38),(14.90,-16.08),(15.45,-15.97),(15.65,-15.74),(16.17,-15.88),(16.15,-16.21),(16.27,-16.69),
 (16.47,-16.38),(15.15,-17.68),(16.26,-17.74),(15.65,-18.17),(14.33,-19.01),(14.80,-18.78),(14.80,-18.90),(14.91,-18.60),(14.80,-18.84),(15.26,-20.08),
 (17.10,-15.54),(17.07,-17.82),(17.12,-11.63),(17.12,-9.47),(17.18,-9.86),(17.75,-11.07),(17.82,-9.79),(18.12,-9.92),(17.95,-12.11),(18.19,-12.05),
 (17.76,-13.10),(18.09,-13.80),(17.97,-14.35),(17.48,-14.44),(17.88,-14.98),(18.04,-15.39),(17.76,-17.34),(18.11,-19.65),(16.97,-20.24),(17.37,-20.44),
 (17.68,-21.18),(16.43,-21.91),(16.86,-22.38),(15.18,-22.52),(15.26,-22.92),(14.49,-23.22),(14.32,-23.86),(14.99,-24.34),(15.42,-24.02),(15.78,-26.52),
 (14.44,-27.02),(14.32,-27.48),(14.37,-27.68),(14.43,-29.47),(14.88,-29.69),(15.28,-29.74),(15.20,-30.08),(15.77,-30.55),(14.32,-30.93),(17.70,-25.34),
 (17.79,-26.35),(18.32,-26.52),(18.79,-26.78),(19.00,-27.56),(18.79,-9.50),(18.89,-9.98),(18.79,-10.27),(18.75,-12.05),(18.69,-12.85),(18.69,-12.92),
 (19.31,-13.01),(19.34,-13.77),(19.22,-14.02),(19.34,-14.84),(19.32,-10.56),(19.39,-10.27),(19.51,-10.34),(19.32,-11.56),(19.42,-11.56),(19.68,-11.91),
 (19.78,-9.65),(18.91,-15.62),(19.38,-15.40),(19.52,-15.36),(19.64,-15.51),(19.21,-17.48),(19.21,-17.82),(19.34,-17.31),(19.52,-18.14),(19.74,-17.10),
 (19.91,-17.18),(19.13,-19.02),(19.33,-18.98),(19.89,-14.21),(19.98,-14.55),(19.98,-11.37),(19.68,-22.76),(19.07,-23.40),(19.13,-23.91),(19.40,-23.56),
 (19.62,-24.67),(20.17,-12.50),(20.29,-10.29),(20.58,-10.27),(20.16,-16.09),(20.25,-16.40),(20.42,-14.92),(20.42,-17.44),(20.42,-19.76),(20.85,-15.79),
 (20.95,-9.74),(21.08,-11.18),(21.31,-10.84),(21.47,-10.72),(21.50,-10.92),(21.47,-9.65),(21.50,-9.77),(21.69,-9.92),(21.69,-10.03),(21.74,-9.42),
 (21.85,-9.39),(21.31,-11.83),(21.14,-12.63),(21.10,-14.32),(21.08,-14.96),(21.45,-14.89),(21.85,-11.65),(21.93,-11.88),(21.92,-12.46),(21.92,-13.16),
 (21.96,-14.35),(21.88,-14.76),(21.98,-10.55),(22.17,-11.11),(22.47,-10.27),(22.72,-10.38),(22.53,-10.99),(22.54,-11.71),(22.72,-12.05),(21.06,-16.43),
 (21.16,-16.37),(21.61,-16.32),(21.62,-16.81),(21.01,-17.74),(21.15,-18.02),(20.96,-19.98),(21.45,-19.83),(21.65,-19.27),(21.93,-20.63),(22.32,-17.25),
 (22.25,-18.08),(22.35,-19.21),(22.68,-16.52),(23.04,-16.21),(23.23,-16.66),(23.60,-16.49),(23.42,-15.22),(23.24,-14.08),(23.07,-13.68),(22.91,-12.90),
 (23.25,-11.76),(23.40,-11.98),(23.31,-9.63),(23.58,-9.36),(24.05,-10.72),(24.05,-12.76),(24.25,-11.83),(24.25,-11.85),(24.13,-19.24),(24.41,-19.13),
 (23.52,-19.74),(23.87,-20.24),(23.49,-20.81),(23.61,-20.92),(22.63,-22.27),(23.13,-22.76),(22.45,-23.30),(21.67,-23.97),(22.28,-24.11),(23.91,-23.69),
 (21.32,-24.92),(23.32,-25.02),(22.63,-25.62),(23.92,-26.12),(23.09,-26.96),(24.41,-25.65),(24.41,-27.10),(24.42,-27.12)]

# Sparse low-rate points, 24.5-36 Mb
low_b = [(24.42,-9.62),(24.90,-9.57),(25.00,-9.80),(25.05,-10.20),(25.09,-10.43),(24.98,-11.00),(25.15,-10.95),(25.15,-9.48),(24.98,-9.36),(25.23,-10.12),
 (25.32,-10.12),(25.28,-10.14),(25.53,-10.26),(25.65,-10.15),(24.76,-11.53),(25.05,-11.73),(25.04,-12.58),(24.88,-14.27),(25.80,-9.47),(26.18,-9.88),
 (25.92,-10.85),(26.00,-12.14),(25.71,-13.01),(25.99,-12.95),(25.71,-14.03),(25.71,-15.00),(25.38,-15.33),(25.42,-15.88),(26.07,-16.37),(25.35,-16.96),
 (25.42,-17.68),(25.95,-17.59),(26.28,-17.68),(26.45,-17.31),(26.75,-17.51),(26.37,-11.18),(26.38,-11.31),(26.50,-11.27),(26.77,-11.91),(26.61,-12.81),
 (26.72,-13.14),(26.44,-13.47),(26.92,-13.86),(26.92,-14.14),(27.20,-13.66),(27.30,-13.28),(27.40,-13.62),(27.31,-14.34),(26.75,-15.19),(27.18,-15.54),
 (27.65,-15.44),(27.61,-12.78),(27.75,-13.60),(27.22,-11.51),(27.65,-11.11),(26.78,-10.24),(26.85,-10.05),(26.88,-9.54),(26.88,-9.36),(27.11,-9.77),
 (27.27,-9.36),(27.65,-9.82),(28.08,-10.49),(28.15,-10.81),(28.07,-11.53),(28.16,-11.71),(28.08,-12.21),(27.74,-17.33),(28.50,-15.73),(28.63,-17.57),
 (28.78,-13.28),(28.43,-9.54),(28.79,-10.34),(28.80,-10.36),(28.87,-10.09),(28.90,-10.72),(29.18,-9.39),(29.22,-9.62),(29.38,-9.39),(29.49,-9.36),
 (29.49,-9.62),(29.38,-10.05),(29.66,-11.56),(29.78,-12.00),(29.50,-12.63),(29.74,-14.49),(29.50,-17.07),(29.92,-16.95),(30.17,-17.40),(30.19,-17.71),
 (30.11,-18.89),(30.11,-19.68),(30.62,-17.11),(30.15,-10.02),(30.16,-10.03),(30.21,-10.08),(30.29,-9.74),(30.32,-10.50),(30.18,-11.36),(30.25,-12.26),
 (30.39,-12.05),(30.64,-11.13),(30.50,-9.48),(30.69,-9.36),(30.98,-13.40),(30.98,-14.41),(31.31,-14.20),(31.39,-14.31),(31.55,-14.23),(31.46,-15.44),
 (31.31,-16.70),(31.39,-16.63),(30.95,-19.83),(31.52,-11.92),(31.69,-12.26),(31.65,-12.44),(31.48,-10.24),(31.49,-10.26),(31.72,-10.37),(32.27,-9.50),
 (32.28,-9.52),(32.05,-13.59),(32.05,-13.98),(31.94,-14.14),(31.93,-18.84),(31.93,-19.30),(32.65,-9.82),(32.65,-10.50),(32.65,-10.61),(32.38,-11.51),
 (32.62,-11.51),(32.91,-9.53),(32.41,-12.90),(32.78,-14.67),(33.28,-13.86),(33.26,-15.42),(33.27,-15.44),(32.82,-18.55),(32.96,-18.98),(32.83,-19.30),
 (33.22,-18.84),(32.80,-20.20),(33.77,-17.31),(33.34,-11.36),(33.48,-11.36),(33.52,-11.60),(33.78,-12.49),(34.12,-9.95),(34.25,-10.67),(34.25,-11.36),
 (34.62,-10.81),(34.77,-10.50),(34.93,-10.12),(34.65,-9.39),(34.90,-11.34),(34.99,-11.18),(34.85,-11.83),(35.07,-11.54),(34.49,-12.89),(34.82,-12.69),
 (34.60,-14.00),(34.92,-15.74),(34.93,-15.76),(35.26,-15.95),(35.65,-16.60),(34.63,-18.47),(34.73,-18.11),(35.35,-18.21),(35.85,-17.95),(35.85,-18.75),
 (35.32,-10.47),(35.43,-10.15),(35.48,-10.69),(35.49,-10.71),(35.55,-11.08),(35.52,-11.54),(35.33,-12.06),(35.91,-9.60),(35.73,-14.05),(35.68,-14.99),
 (24.56,-20.21),(24.59,-21.98),(24.59,-24.44),(25.12,-24.84),(25.35,-20.03),(25.45,-20.90),(25.83,-19.85),(25.99,-20.24),(26.32,-19.28),(26.44,-19.88),
 (26.45,-21.07),(27.24,-19.63),(27.29,-19.68),(27.43,-19.24),(27.66,-18.93),(27.66,-19.05),(28.37,-19.24),(28.11,-20.24),(27.92,-20.79),(27.36,-22.43),
 (27.93,-23.16),(27.52,-23.83),(27.74,-24.50),(27.37,-25.53),(26.71,-25.92),(26.71,-26.23),(27.02,-26.41),(27.02,-26.56),(26.27,-27.11),(28.94,-21.54),
 (29.51,-21.79),(29.78,-21.60),(29.78,-21.76),(29.92,-21.95),(29.63,-23.27),(30.15,-23.48),(30.16,-23.73),(29.56,-25.30),(29.59,-26.03),(30.16,-26.40),
 (30.02,-27.10),(30.32,-27.63),(31.32,-21.89),(31.75,-21.04),(31.77,-22.05),(31.75,-22.90),(31.32,-24.23),(31.38,-26.02),(31.32,-27.10),(33.83,-21.57),
 (35.19,-21.73),(35.27,-21.79),(34.57,-23.82),(34.85,-23.76),(34.50,-24.31),(34.51,-24.33),(35.33,-24.87),(35.56,-24.60),(34.51,-25.88),(35.76,-27.08)]

# Sparse low-rate points, 36-46.2 Mb
low_c = [(36.54,-9.49),(36.89,-9.59),(37.08,-10.35),(36.04,-11.15),(36.10,-11.71),(35.98,-11.98),(36.34,-10.64),(36.54,-12.17),(36.10,-13.10),(36.31,-14.09),
 (36.56,-13.95),(35.98,-14.40),(36.64,-14.64),(36.83,-14.63),(36.09,-15.13),(37.69,-10.23),(37.86,-10.23),(38.00,-9.98),(38.10,-9.54),(37.85,-10.70),
 (38.08,-10.75),(38.09,-10.77),(38.63,-9.77),(38.52,-9.31),(38.87,-10.50),(38.96,-11.45),(38.71,-11.82),(38.89,-12.32),(38.23,-12.35),(38.23,-13.15),
 (38.48,-13.60),(38.88,-14.56),(39.65,-13.69),(39.73,-13.89),(39.78,-11.25),(39.83,-11.57),(39.88,-10.75),(40.07,-10.14),(39.98,-15.19),(40.37,-12.11),
 (40.16,-12.96),(40.81,-12.14),(40.84,-10.89),(40.88,-9.36),(41.50,-9.83),(41.51,-10.49),(41.72,-10.29),(41.96,-9.39),(42.31,-9.59),(42.53,-9.31),
 (42.22,-11.25),(42.64,-10.75),(42.98,-11.21),(42.47,-12.50),(42.43,-14.60),(42.76,-14.37),(42.80,-15.30),(43.75,-10.89),(44.04,-10.55),(44.32,-11.07),
 (44.49,-10.67),(44.50,-9.85),(44.62,-10.93),(44.68,-11.40),(44.65,-11.73),(44.43,-12.35),(44.47,-12.53),(44.68,-12.55),(44.57,-12.87),(44.77,-13.13),
 (45.19,-10.93),(45.37,-10.93),(45.13,-11.48),(45.20,-12.49),(45.58,-12.49),(45.87,-11.86),(45.88,-9.63),(46.01,-9.88),(46.04,-13.63),(45.03,-14.37),
 (38.37,-15.88),(38.88,-15.73),(38.89,-16.50),(36.56,-16.86),(36.57,-16.88),(37.63,-17.51),(39.09,-17.56),(38.93,-17.89),(38.88,-18.37),(36.67,-18.50),
 (37.56,-18.47),(36.31,-19.25),(39.02,-19.47),(37.75,-19.77),(38.37,-19.79),(36.31,-20.17),(36.40,-20.12),(40.81,-16.14),(40.86,-16.29),(41.49,-16.78),
 (41.70,-17.11),(41.57,-17.60),(42.34,-16.60),(42.60,-17.91),(40.44,-18.40),(41.81,-18.83),(41.48,-19.19),(41.69,-19.40),(41.09,-19.77),(42.20,-19.91),
 (43.58,-17.79),(43.58,-19.63),(44.30,-19.30),(44.98,-17.95),(46.11,-19.28),(36.71,-21.19),(36.83,-21.07),(37.93,-21.37),(36.40,-23.25),(36.31,-24.79),
 (36.63,-24.84),(37.14,-24.75),(37.53,-24.24),(38.69,-24.43),(38.70,-24.45),(38.83,-23.25),(39.75,-24.79),(36.30,-25.37),(36.51,-25.69),(37.54,-25.57),
 (38.39,-25.07),(39.06,-26.03),(37.14,-26.56),(38.85,-27.40),(40.44,-21.15),(41.24,-20.56),(40.90,-22.52),(40.42,-24.05),(41.47,-23.61),(41.57,-23.64),
 (42.72,-23.00),(42.93,-23.53),(42.90,-24.73),(42.73,-20.56),(43.58,-21.92),(44.09,-22.18),(44.09,-23.34),(44.77,-22.40),(44.95,-22.52),(44.96,-23.27),
 (44.97,-23.29),(44.99,-24.06),(44.98,-20.85),(44.82,-21.10),(44.95,-21.50),(45.25,-21.70),(45.29,-21.76),(45.75,-20.56),(45.76,-20.58),(45.74,-20.54),
 (45.75,-20.40),(44.97,-25.46),(44.81,-26.21),(41.52,-26.41),(42.23,-26.75),(42.75,-26.41)]

# Positions with zero recombination rate (log = -Inf, drawn on the lower border)
zero_rate_x = [14.22,14.43,14.52,14.87,15.02,15.08,15.23,15.37,15.48,15.66,15.83,15.98,16.10,16.22,16.37,16.68,16.82,16.95,17.02,17.18,
 17.29,17.41,17.60,17.75,17.83,17.98,18.22,18.37,18.52,18.64,18.79,18.95,19.06,19.29,19.56,19.68,19.87,20.06,20.33,20.45,
 20.60,20.72,20.91,21.06,21.22,21.37,21.60,21.72,21.83,21.98,22.14,22.37,22.52,22.83,23.02,23.29,23.48,23.68,23.91,24.06,
 24.25,24.41,24.58,24.74,24.90,25.05,25.15,25.42,25.55,25.71,26.20,26.34,26.49,26.63,26.80,26.95,27.10,27.27,27.41,27.58,
 27.72,27.88,28.03,28.35,28.51,28.70,28.84,29.20,29.36,29.55,29.96,30.12,30.27,30.43,30.61,30.78,30.95,31.35,31.51,31.66,
 31.82,31.99,32.15,32.33,32.47,32.61,32.88,33.05,33.21,33.38,33.58,33.73,33.90,34.04,34.22,34.38,34.53,34.70,34.86,35.01,
 35.17,35.34,35.49,35.66,35.80,35.97,36.12,36.27,36.44,36.59,36.75,36.90,37.07,37.23,37.38,37.55,37.71,37.86,38.02,38.18,
 38.35,38.50,38.66,38.81,38.97,39.14,39.29,39.45,39.61,39.77,39.93,40.08,40.24,40.40,40.56,40.71,40.88,40.98,41.42,41.58,
 41.76,41.92,42.18,42.35,42.52,42.69,42.86,43.03,43.33,43.49,43.66,43.82,43.98,44.10,44.40,44.56,44.72,44.89,45.05,45.22,
 45.38,45.55,45.71,45.88,46.04,46.18]

# ---------------------------------------------------------------
dense = dense_a + dense_d + dense_b + dense_e + dense_c + dense_f + top_pts
sparse = low_a + low_b + low_c
dx = np.array([p[0] for p in dense]); dy = np.array([p[1] for p in dense])
sx = np.array([p[0] for p in sparse]); sy = np.array([p[1] for p in sparse])
px = np.concatenate([dx, sx]); py = np.concatenate([dy, sy])

fig = plt.figure(figsize=(7, 4), dpi=300)
ax = fig.add_axes([0.0724, 0.1029, 0.9162, 0.8154])

all_x = np.concatenate([px, np.array(hotspot_x), np.array(zero_rate_x)])
xr = all_x.max() - all_x.min()
ax.set_xlim(all_x.min() - 0.05 * xr, all_x.max() + 0.05 * xr)
yr = py.max() - py.min()
ax.set_ylim(py.min() - 0.05 * yr, py.max() + 0.05 * yr)

ax.set_xticks(x_major)
ax.set_xticks(x_minor, minor=True)
ax.set_yticks(y_major)
ax.set_yticks(y_minor, minor=True)
ax.set_xticklabels([str(v) for v in x_major])
ax.set_yticklabels([str(v) for v in y_major])

ax.grid(which='major', color='#EBEBEB', linewidth=1.07)
ax.grid(which='minor', color='#EBEBEB', linewidth=0.53)
ax.set_axisbelow(True)
for s in ax.spines.values():
    s.set_color('#333333')
    s.set_linewidth(1.07)
ax.tick_params(which='major', length=2.75, width=1.07, color='#333333',
               labelcolor='#4D4D4D', labelsize=8.8, pad=2.2)
ax.tick_params(which='minor', length=0)

half = 0.55
ax.vlines(hotspot_x, hotspot_threshold - half, hotspot_threshold + half,
          colors='#FF0000', linewidth=1.0, zorder=2)
ax.axhline(hotspot_threshold, color='black', linewidth=1.07, zorder=3)

ms = 3.6
a_dense, a_sparse = 0.4, 0.3
ax.scatter(dx, dy, s=ms, marker='o', facecolors=(0, 0, 0, a_dense),
           edgecolors=(0, 0, 0, a_dense), linewidths=0.55, zorder=4)
ax.scatter(sx, sy, s=ms, marker='o', facecolors=(0, 0, 0, a_sparse),
           edgecolors=(0, 0, 0, a_sparse), linewidths=0.55, zorder=4)
trans = mtransforms.blended_transform_factory(ax.transData, ax.transAxes)
ax.scatter(zero_rate_x, np.zeros(len(zero_rate_x)), s=ms, marker='o',
           facecolors=(0, 0, 0, 0.55), edgecolors=(0, 0, 0, 0.55), linewidths=0.55,
           transform=trans, zorder=4, clip_on=True)

ax.set_xlabel(x_label, fontsize=11, labelpad=2.75, color='black')
ax.set_ylabel(y_label, fontsize=11, labelpad=2.75, color='black')
ax.set_title(title, loc='left', fontsize=13.2, pad=8.4, color='black')

fig.savefig("out.png", dpi=300)
